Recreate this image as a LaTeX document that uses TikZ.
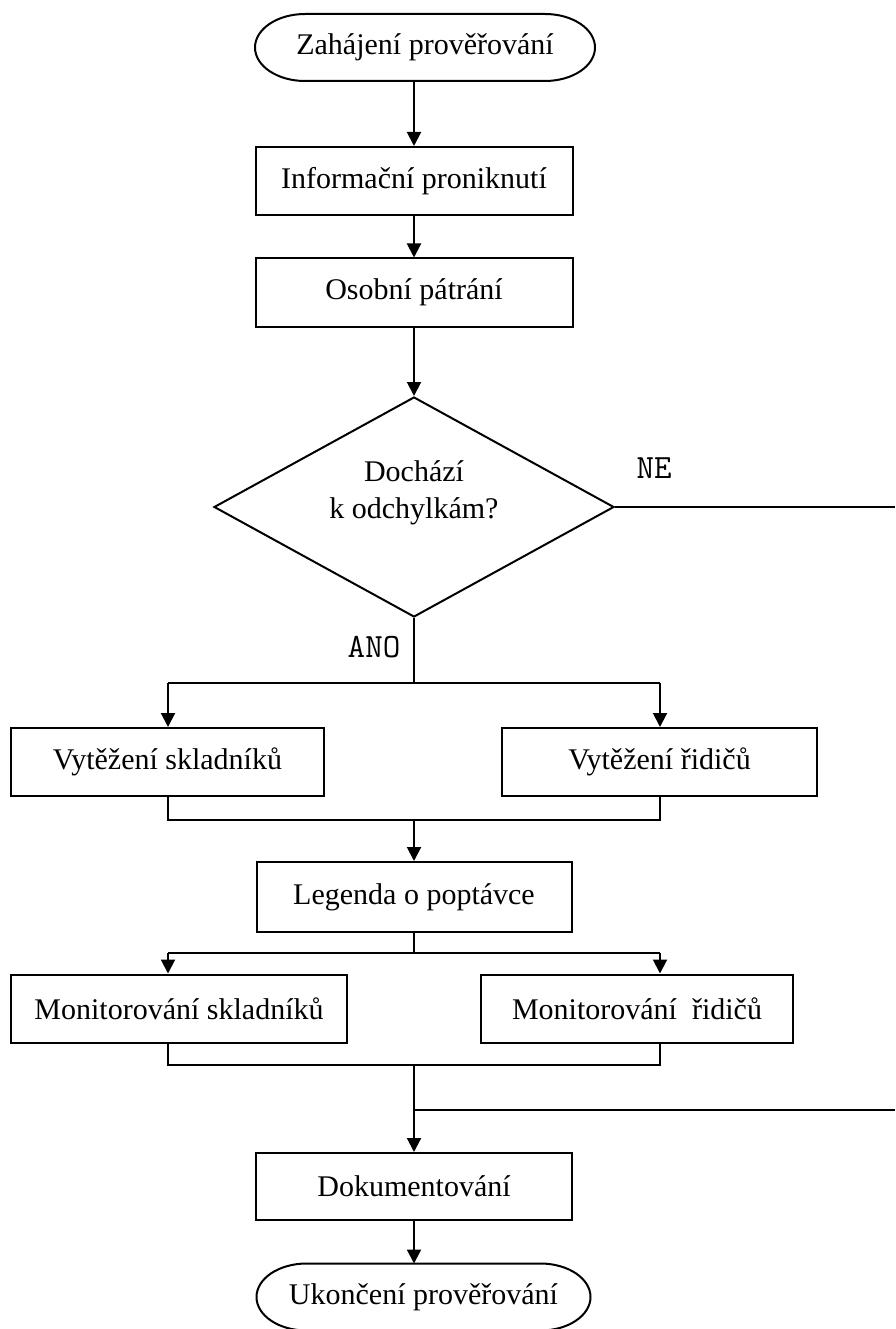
\documentclass[tikz,border=0pt]{standalone}
\usepackage{fontspec}
\setmainfont{Liberation Serif}
\usetikzlibrary{shapes.geometric,arrows.meta,calc}
\begin{document}
\begin{tikzpicture}[x=1pt,y=-1pt,
  font=\fontsize{30}{37}\selectfont,
  line width=2pt,
  box/.style={draw,rectangle,minimum height=68pt,inner sep=0pt},
  term/.style={minimum width=#1,minimum height=67pt,inner sep=0pt,outer sep=0pt},
  flow/.style={-{Triangle[width=14pt,length=14pt]}},
  lbl/.style={font=\ttfamily\fontsize{34}{34}\selectfont}
]
\useasboundingbox (0,0) rectangle (895,1329);

% terminators (outline drawn below)
\node[term=340pt] (start) at (425,47.5) {Zahájení prověřování};
\node[term=334pt] (stop) at (423.5,1297) {Ukončení prověřování};
\foreach \t in {start,stop}
  \draw ([xshift=50pt]\t.north west) -- ([xshift=-50pt]\t.north east)
    arc[start angle=90,end angle=-90,x radius=50pt,y radius=33.5pt]
    -- ([xshift=50pt]\t.south west)
    arc[start angle=270,end angle=90,x radius=50pt,y radius=33.5pt] -- cycle;

% process boxes
\node[box,minimum width=317pt] (info) at (414,181) {Informační proniknutí};
\node[box,minimum width=317pt] (osobni) at (414,292.5) {Osobní pátrání};
\node[box,minimum width=313pt] (vyts) at (167.5,762) {Vytěžení skladníků};
\node[box,minimum width=315pt] (vytr) at (659.5,762) {Vytěžení řidičů};
\node[box,minimum width=315pt,minimum height=70pt] (legenda) at (414,897) {Legenda o poptávce};
\node[box,minimum width=336pt] (mons) at (179,1008.5) {Monitorování skladníků};
\node[box,minimum width=312pt] (monr) at (637,1008.5) {Monitorování\hspace{0.25em} řidičů};
\node[box,minimum width=316pt,minimum height=67pt] (dok) at (414,1186.5) {Dokumentování};

% decision
\node[draw,diamond,minimum width=400pt,minimum height=220pt,inner sep=0pt] (dec) at (414,507) {};
\node[align=center] (qtext) at (414,493) {Dochází\\k odchylkám?};

% main flow
\draw[flow] (info.north |- start.south) -- (info.north);
\draw[flow] (info.south) -- (osobni.north);
\draw[flow] (osobni.south) -- (dec.north);

% NE branch
\coordinate (neEnd) at (895,507);
\draw (dec.east) -- (neEnd);
\node[lbl] (ne) at (654,468) {NE};

% ANO branch
\coordinate (split1) at (414,683);
\coordinate (s1l) at (168,683);
\coordinate (s1r) at (660,683);
\draw (dec.south) -- (split1);
\node[lbl] (ano) at (374,647) {ANO};
\draw (s1l) -- (s1r);
\draw[flow] (s1l) -- (s1l |- vyts.north);
\draw[flow] (s1r) -- (s1r |- vytr.north);
\coordinate (join1) at (414,820);
\draw (s1l |- vyts.south) -- (s1l |- join1) -- (s1r |- join1) -- (s1r |- vytr.south);
\draw[flow] (join1) -- (legenda.north);

% monitoring
\coordinate (split2) at (414,953);
\coordinate (s2l) at (168,953);
\coordinate (s2r) at (660,953);
\draw (legenda.south) -- (split2);
\draw (s2l) -- (s2r);
\draw[flow] (s2l) -- (s2l |- mons.north);
\draw[flow] (s2r) -- (s2r |- monr.north);
\coordinate (join2) at (414,1065);
\draw (s2l |- mons.south) -- (s2l |- join2) -- (s2r |- join2) -- (s2r |- monr.south);
\draw[flow] (join2) -- (dok.north);

% return from NE
\coordinate (loopEnd) at (895,1110);
\draw (loopEnd) -- (loopEnd -| dok.north);

\draw[flow] (dok.south) -- (dok.south |- stop.north);
\end{tikzpicture}
\end{document}
